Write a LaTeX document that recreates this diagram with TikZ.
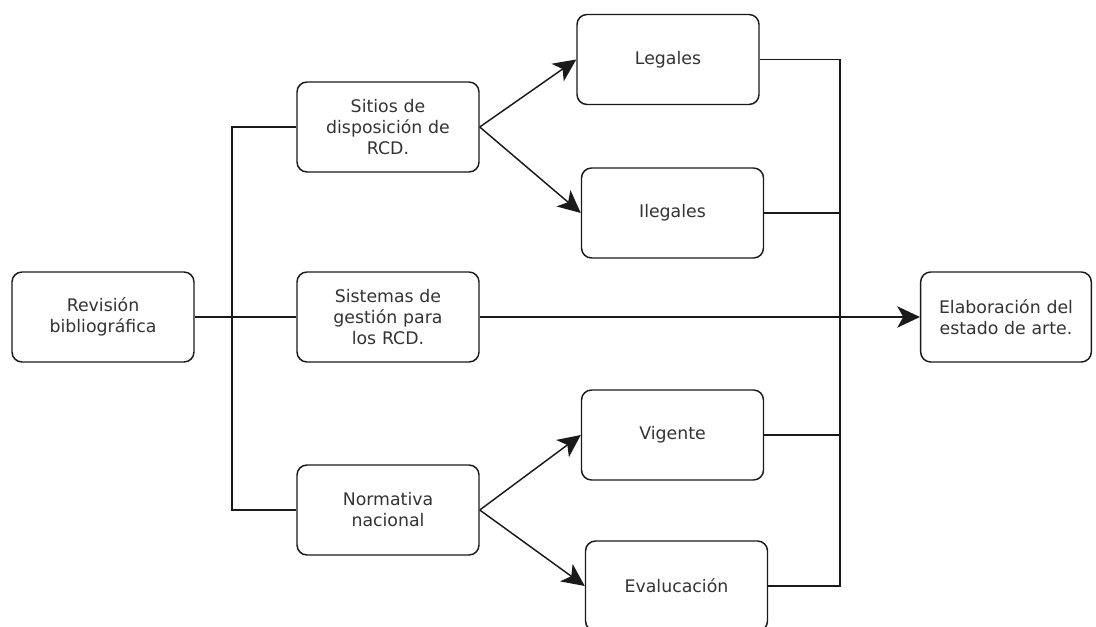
\documentclass[tikz,border=0pt]{standalone}
\usepackage{fontspec}
\setmainfont{DejaVu Sans}
\usetikzlibrary{arrows.meta}
\definecolor{txt}{HTML}{333333}
\definecolor{ln}{HTML}{1A1A1A}
\tikzset{
  box/.style={draw=ln, line width=1.1pt, rounded corners=7.5pt, minimum width=136.5pt, minimum height=67.5pt, align=center, text=txt, font=\fontsize{13}{15.75}\selectfont, inner sep=2pt, text width=132pt},
  conn/.style={draw=ln, line width=1.1pt},
  arr/.style={conn, -{Stealth[length=17pt, width=16pt, inset=4.5pt]}}
}
\begin{document}
\begin{tikzpicture}[x=0.75pt, y=-0.75pt]
\useasboundingbox (0,0) rectangle (1096,627);
\node[box] (rev) at (103,317) {Revisión\\bibliográfica};
\node[box] (sit) at (388,127) {Sitios de\\disposición de\\RCD.};
\node[box] (sis) at (388,317) {Sistemas de\\gestión para\\los RCD.};
\node[box] (nor) at (388,510) {Normativa\\nacional};
\node[box] (leg) at (668,59.5) {Legales};
\node[box] (ile) at (672.5,213) {Ilegales};
\node[box] (vig) at (672.5,435) {Vigente};
\node[box] (eva) at (676.5,586) {Evalucación};
\node[box, minimum width=128pt, text width=124pt] (ela) at (1006,317) {Elaboración del\\estado de arte.};
\coordinate (jl) at (232,317);
\coordinate (jr) at (840,317);
% left tree
\draw[conn] (rev.east) -- (jl);
\draw[conn] (sit.west) -- (sit.west -| jl) -- (nor.west -| jl) -- (nor.west);
\draw[conn] (jl) -- (sis.west);
% branches
\draw[arr] (sit.east) -- (leg.west);
\draw[arr] (sit.east) -- (ile.west);
\draw[arr] (nor.east) -- (vig.west);
\draw[arr] (nor.east) -- (eva.west);
% right collector
\draw[conn] (leg.east) -- (leg.east -| jr) -- (eva.east -| jr) -- (eva.east);
\draw[conn] (ile.east) -- (ile.east -| jr);
\draw[conn] (vig.east) -- (vig.east -| jr);
\draw[arr] (sis.east) -- (ela.west);
\end{tikzpicture}
\end{document}
